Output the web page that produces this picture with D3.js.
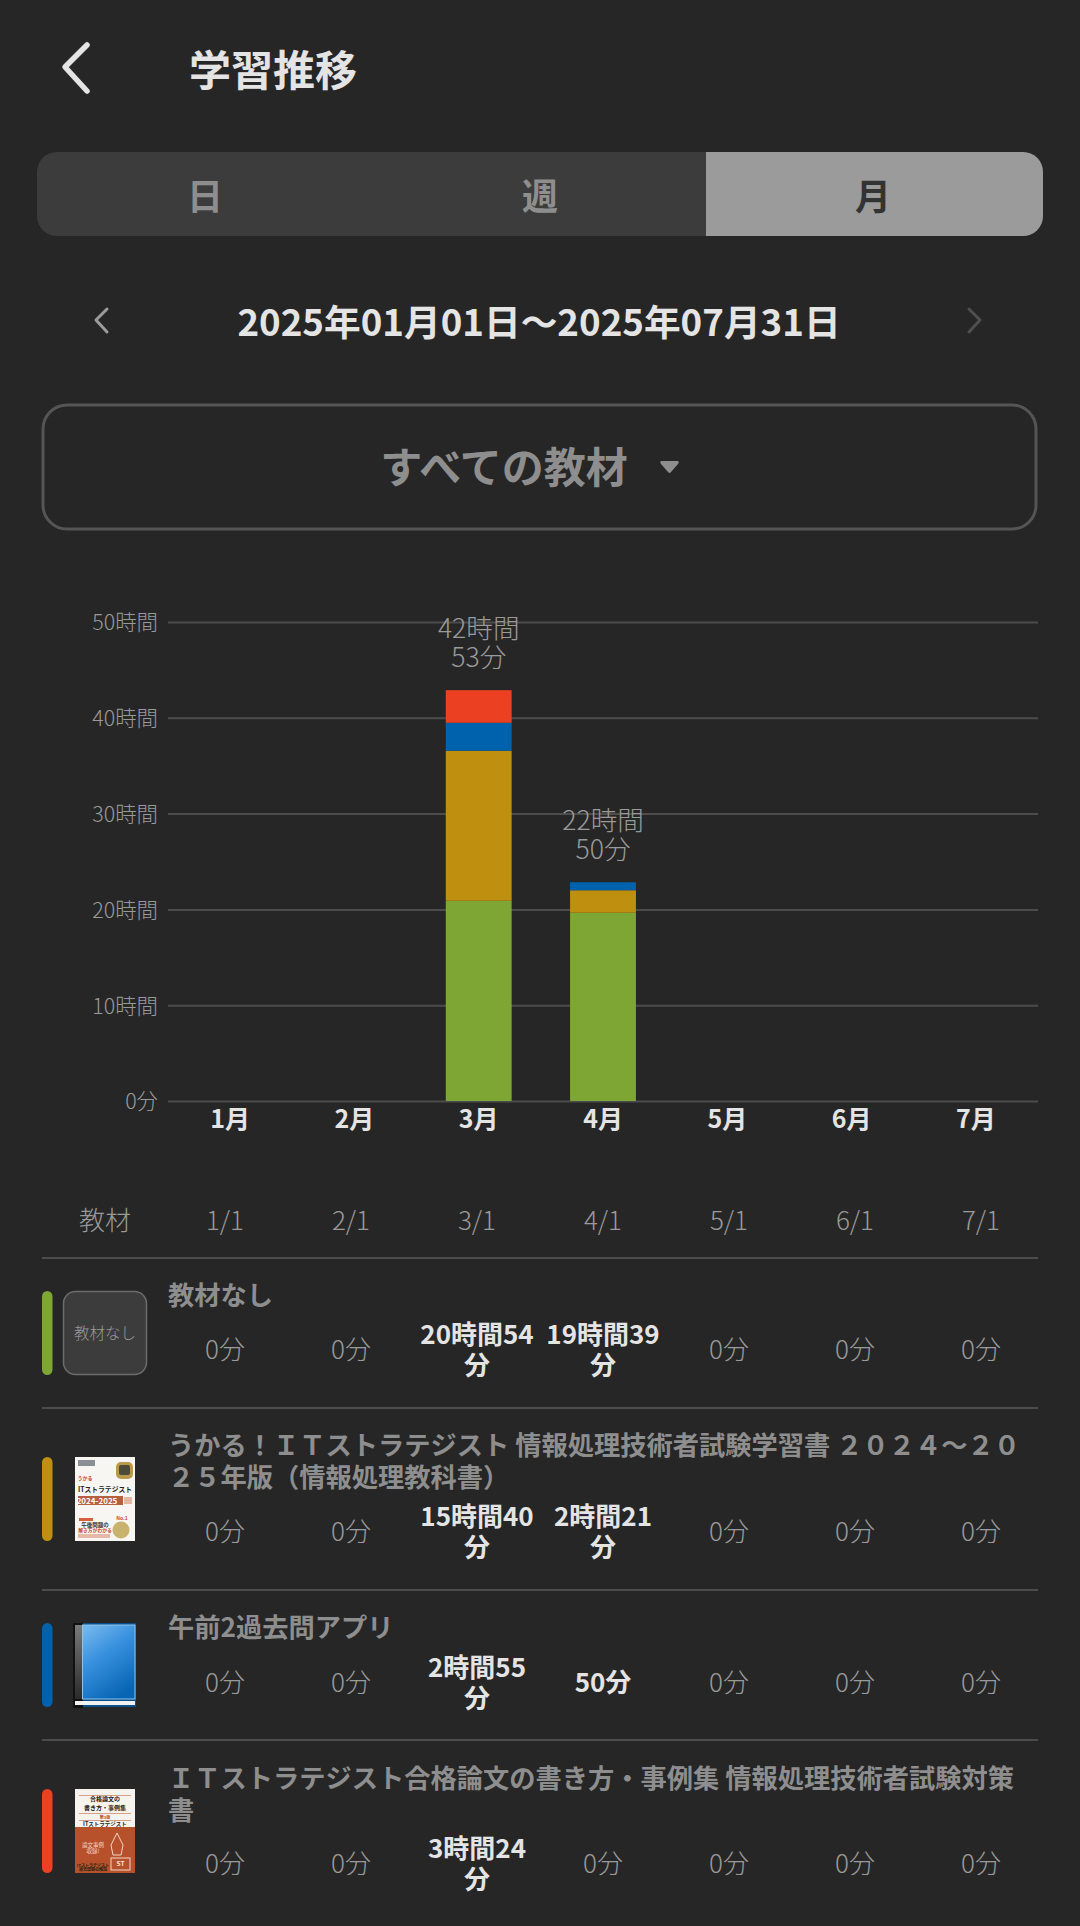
<!DOCTYPE html>
<html lang="ja">
<head>
<meta charset="utf-8">
<script src="https://cdn.jsdelivr.net/npm/d3@7"></script>
<style>
  html, body { margin: 0; background: #262626; }
  svg { display: block; }
  text { font-family: "Noto Sans CJK JP", sans-serif; }
</style>
</head>
<body>
<div id="wrapper"></div>
<script>
const months = ['1月', '2月', '3月', '4月', '5月', '6月', '7月']
const columnDates = ['1/1', '2/1', '3/1', '4/1', '5/1', '6/1', '7/1']
const yTicks = [0, 600, 1200, 1800, 2400, 3000]
const tabs = ['日', '週', '月']
const dateRange = '2025年01月01日～2025年07月31日'
const filterLabel = 'すべての教材'

// minutes studied per month, one array per material
const noMaterial = [0, 0, 1254, 1179, 0, 0, 0]
const ukaruBook = [0, 0, 940, 141, 0, 0, 0]
const quizApp = [0, 0, 175, 50, 0, 0, 0]
const essayBook = [0, 0, 204, 0, 0, 0, 0]

const seriesKeys = ['none', 'ukaru', 'app', 'essay']
const seriesValues = [noMaterial, ukaruBook, quizApp, essayBook]
const seriesColors = ['#7da634', '#bf8f10', '#0062ad', '#ec4023']
const seriesTitles = [
  ['教材なし'],
  ['うかる！ＩＴストラテジスト 情報処理技術者試験学習書 ２０２４～２０', '２５年版（情報処理教科書）'],
  ['午前2過去問アプリ'],
  ['ＩＴストラテジスト合格論文の書き方・事例集 情報処理技術者試験対策', '書'],
]

const dimensions = {
  width: 1080,
  height: 1926,
  chartLeft: 168,
  chartRight: 1038,
  chartTop: 622,
  chartBottom: 1101,
}

const colors = {
  bg: '#262626',
  panel: '#3c3c3c',
  active: '#9b9b9b',
  line: '#4c4c4c',
  muted: '#8e8e8e',
  thin: '#9a9a9a',
  light: '#e4e4e4',
}

const svg = d3
  .select('#wrapper')
  .append('svg')
  .attr('width', dimensions.width)
  .attr('height', dimensions.height)

function label(parent, x, y, str, size, fill, weight, anchor) {
  return parent
    .append('text')
    .attr('x', x)
    .attr('y', y)
    .attr('dy', '0.4em')
    .attr('font-size', size)
    .attr('font-weight', weight || 400)
    .attr('text-anchor', anchor || 'middle')
    .attr('fill', fill)
    .text(str)
}

// several lines in one text element, y is the centre of the first line
function multiline(parent, x, y, lines, lineHeight, size, fill, weight, anchor) {
  const t = label(parent, x, y, null, size, fill, weight, anchor).attr('dy', null)
  lines.forEach((line, i) => {
    t.append('tspan')
      .attr('x', x)
      .attr('dy', i === 0 ? '0.4em' : lineHeight)
      .text(line)
  })
  return t
}

function chevron(points, stroke, width) {
  svg
    .append('path')
    .attr('d', d3.line()(points))
    .attr('fill', 'none')
    .attr('stroke', stroke)
    .attr('stroke-width', width)
    .attr('stroke-linecap', 'round')
    .attr('stroke-linejoin', 'round')
}

// header
chevron([[87, 45], [65, 67], [87, 91]], colors.light, 5.500)
label(svg, 189, 69, '学習推移', 42, colors.light, 700, 'start')

// day / week / month switch
svg.append('rect').attr('x', 37).attr('y', 152).attr('width', 1006).attr('height', 84).attr('rx', 20).attr('fill', colors.panel)
svg
  .append('path')
  .attr('d', 'M706,152H1023a20,20 0 0 1 20,20V216a20,20 0 0 1 -20,20H706Z')
  .attr('fill', colors.active)
const tabX = [205, 540, 873]
tabs.forEach((t, i) => {
  label(svg, tabX[i], 196, t, 36, i === 2 ? '#333333' : colors.muted, 700)
})

// date range row
chevron([[107, 309], [96, 320], [107, 332]], colors.active, 3)
chevron([[969, 309], [980, 320], [969, 332]], '#4f4f4f', 3)
label(svg, 539, 321, dateRange, 36.700, colors.light, 700)

// material filter
svg
  .append('rect')
  .attr('x', 43)
  .attr('y', 405)
  .attr('width', 993)
  .attr('height', 124)
  .attr('rx', 24)
  .attr('fill', 'none')
  .attr('stroke', '#555555')
  .attr('stroke-width', 3)
label(svg, 504, 466, filterLabel, 42, colors.muted, 700)
svg
  .append('path')
  .attr('d', 'M662,461H677Q680,461 678,464L671,472Q669.500,474 668,472L661,464Q659,461 662,461Z')
  .attr('fill', colors.muted)

// chart scales
const xScale = d3
  .scaleBand()
  .domain(months)
  .range([dimensions.chartLeft, dimensions.chartRight])
  .paddingInner(0.47)
  .paddingOuter(0.235)

const yScale = d3
  .scaleLinear()
  .domain([0, 3000])
  .range([dimensions.chartBottom, dimensions.chartTop])

const formatTick = (m) => (m === 0 ? '0分' : `${m / 60}時間`)

// y axis doubles as the gridlines
const yAxis = svg
  .append('g')
  .attr('transform', `translate(${dimensions.chartLeft}, 0)`)
  .call(
    d3
      .axisLeft(yScale)
      .tickValues(yTicks)
      .tickSize(-(dimensions.chartRight - dimensions.chartLeft))
      .tickPadding(10)
      .tickFormat(formatTick)
  )
yAxis.select('.domain').remove()
yAxis.selectAll('line').attr('stroke', colors.line).attr('stroke-width', 2)
yAxis
  .selectAll('text')
  .attr('font-family', '"Noto Sans CJK JP", sans-serif')
  .attr('font-size', 21.400)
  .attr('font-weight', 300)
  .attr('dy', '0.37em')
  .attr('fill', colors.thin)

// stacked bars
const stackRows = months.map((month, i) => {
  const row = { month }
  seriesKeys.forEach((k, s) => (row[k] = seriesValues[s][i]))
  return row
})
const stacked = d3.stack().keys(seriesKeys)(stackRows)

svg
  .append('g')
  .selectAll('g')
  .data(stacked)
  .join('g')
  .attr('fill', (d, i) => seriesColors[i])
  .selectAll('rect')
  .data((d) => d)
  .join('rect')
  .attr('x', (d) => xScale(d.data.month))
  .attr('width', xScale.bandwidth())
  .attr('y', (d) => yScale(d[1]))
  .attr('height', (d) => yScale(d[0]) - yScale(d[1]))

// month labels under the bars
const xAxis = svg
  .append('g')
  .attr('transform', `translate(0, ${dimensions.chartBottom})`)
  .call(d3.axisBottom(xScale).tickSize(0).tickPadding(9))
xAxis.select('.domain').remove()
xAxis
  .selectAll('text')
  .attr('font-family', '"Noto Sans CJK JP", sans-serif')
  .attr('font-size', 25)
  .attr('font-weight', 700)
  .attr('fill', colors.light)

// totals above bars
months.forEach((month, i) => {
  const total = d3.sum(seriesValues, (s) => s[i])
  if (total === 0) return
  const cx = xScale(month) + xScale.bandwidth() / 2
  const lines = [`${Math.floor(total / 60)}時間`, `${total % 60}分`]
  multiline(svg, cx, yScale(total) - 63, lines, 29, 26.600, colors.thin, 300)
})

// table
const columnScale = d3.scaleBand().domain(columnDates).range([162, 1044])
const columnCenter = (d) => columnScale(d) + columnScale.bandwidth() / 2

label(svg, 105, 1220, '教材', 26, colors.thin, 300)
columnDates.forEach((d) => label(svg, columnCenter(d), 1220, d, 26, colors.thin, 300))

function separator(y) {
  svg
    .append('line')
    .attr('x1', 42)
    .attr('x2', 1038)
    .attr('y1', y)
    .attr('y2', y)
    .attr('stroke', colors.line)
    .attr('stroke-width', 2)
}

const rowLayout = [
  { top: 1258, swatch: 1291, titleY: 1294, cellY: 1349 },
  { top: 1408, swatch: 1457, titleY: 1444, cellY: 1531 },
  { top: 1590, swatch: 1623, titleY: 1626, cellY: 1682 },
  { top: 1740, swatch: 1789, titleY: 1777, cellY: 1863 },
]

rowLayout.forEach((row, s) => {
  separator(row.top)
  svg
    .append('rect')
    .attr('x', 42)
    .attr('y', row.swatch)
    .attr('width', 10.500)
    .attr('height', 84)
    .attr('rx', 5.250)
    .attr('fill', seriesColors[s])

  multiline(svg, 168, row.titleY, seriesTitles[s], 32, 26.250, colors.muted, 700, 'start')

  seriesValues[s].forEach((minutes, i) => {
    const cx = columnCenter(columnDates[i])
    if (minutes === 0) {
      label(svg, cx, row.cellY, '0分', 26, colors.thin, 300)
      return
    }
    const h = Math.floor(minutes / 60)
    const m = minutes % 60
    if (h === 0) {
      label(svg, cx, row.cellY, `${m}分`, 26, colors.light, 700)
    } else {
      // the cell is narrow, so 分 wraps onto a second line
      multiline(svg, cx, row.cellY - 15.500, [`${h}時間${m}`, '分'], 31, 26, colors.light, 700)
    }
  })
})

// thumbnails
function noMaterialThumb(y) {
  svg.append('rect').attr('x', 63.500).attr('y', y + 0.500).attr('width', 83).attr('height', 83).attr('rx', 12)
    .attr('fill', colors.panel).attr('stroke', '#6c6c6c').attr('stroke-width', 1.500)
  label(svg, 105, y + 42, '教材なし', 15.500, colors.active, 300)
}

function ukaruThumb(y) {
  const g = svg.append('g').attr('transform', `translate(75, ${y})`)
  g.append('rect').attr('width', 60).attr('height', 84).attr('fill', '#f7f6f2')
  g.append('rect').attr('x', 3).attr('y', 3).attr('width', 17).attr('height', 6).attr('fill', '#8a8f96')
  g.append('rect').attr('x', 41).attr('y', 5).attr('width', 17).attr('height', 17).attr('rx', 5).attr('fill', '#b89a4a')
  g.append('rect').attr('x', 44).attr('y', 8).attr('width', 11).attr('height', 10).attr('rx', 2).attr('fill', '#4d4a3a')
  label(g, 10, 21, 'うかる', 5, '#d23b2a', 700)
  label(g, 30, 32, 'ITストラテジスト', 6.800, '#222222', 700)
  g.append('rect').attr('x', 3).attr('y', 39).attr('width', 45).attr('height', 9).attr('fill', '#b5603f')
  label(g, 22, 43.500, '2024-2025', 8, '#ffffff', 700)
  g.append('rect').attr('x', 49).attr('y', 40).attr('width', 8).attr('height', 7).attr('fill', '#e3b9a5')
  g.append('rect').attr('x', 4).attr('y', 61).attr('width', 14).attr('height', 3).attr('fill', '#d8603f')
  label(g, 20, 68, '午後問題の', 5.500, '#333333', 700)
  label(g, 20, 73.500, '解き方がわかる', 4.800, '#c7402c', 700)
  g.append('circle').attr('cx', 46).attr('cy', 73).attr('r', 8.500).attr('fill', '#c9b26d')
  label(g, 47, 61, 'No.1', 5, '#d13c2b', 700)
  g.append('rect').attr('x', 3).attr('y', 77).attr('width', 32).attr('height', 4).attr('fill', '#e6b8a8')
}

const defs = svg.append('defs')
const blueGrad = defs.append('linearGradient').attr('id', 'appBlue').attr('x1', 0.150).attr('y1', 0).attr('x2', 0.650).attr('y2', 1)
blueGrad.append('stop').attr('offset', 0).attr('stop-color', '#73b6ec')
blueGrad.append('stop').attr('offset', 0.400).attr('stop-color', '#3a92df')
blueGrad.append('stop').attr('offset', 1).attr('stop-color', '#0765b4')
const spineGrad = defs.append('linearGradient').attr('id', 'appSpine').attr('x1', 0).attr('y1', 0).attr('x2', 0).attr('y2', 1)
spineGrad.append('stop').attr('offset', 0).attr('stop-color', '#7a7a7a')
spineGrad.append('stop').attr('offset', 1).attr('stop-color', '#2a2a2a')

function appThumb(y) {
  const g = svg.append('g').attr('transform', `translate(73, ${y})`)
  g.append('rect').attr('x', 9).attr('width', 54).attr('height', 84).attr('fill', '#0b4f8a')
  g.append('rect').attr('width', 10).attr('height', 85).attr('fill', '#111111')
  g.append('rect').attr('x', 2).attr('y', 2).attr('width', 7.500).attr('height', 74).attr('fill', 'url(#appSpine)')
  g.append('rect').attr('x', 9.500).attr('y', 2).attr('width', 52.500).attr('height', 74).attr('fill', 'url(#appBlue)').attr('stroke', '#8fc3ea').attr('stroke-width', 1)
  g.append('rect').attr('x', 2).attr('y', 78).attr('width', 60).attr('height', 4).attr('fill', '#f1f1f1')
}

function essayThumb(y) {
  const g = svg.append('g').attr('transform', `translate(75, ${y})`)
  g.append('rect').attr('width', 60).attr('height', 84).attr('fill', '#f6f3ee')
  g.append('rect').attr('y', 38).attr('width', 60).attr('height', 46).attr('fill', '#b6512c')
  ;[6, 24, 31].forEach((ly) => {
    g.append('rect').attr('x', 4).attr('y', ly).attr('width', 52).attr('height', 0.800).attr('fill', '#d08a6c')
  })
  label(g, 30, 10, '合格論文の', 6, '#222222', 700)
  label(g, 30, 19, '書き方・事例集', 6, '#222222', 700)
  label(g, 30, 28, '第3版', 4, '#b6512c', 700)
  label(g, 30, 34.500, 'ITストラテジスト', 5.500, '#222222', 700)
  g.append('path').attr('d', 'M42,44L48,56L46,66H38L36,56Z').attr('fill', 'none').attr('stroke', '#f3d6c4').attr('stroke-width', 1)
  g.append('rect').attr('x', 36).attr('y', 69).attr('width', 19).attr('height', 12).attr('fill', 'none').attr('stroke', '#f3d6c4').attr('stroke-width', 1)
  label(g, 45.500, 74.500, 'ST', 6.500, '#f7e4d6', 700)
  label(g, 18, 56, '論文事例', 5.500, '#f3d6c4', 400)
  label(g, 18, 62, '収録!', 5.500, '#f3d6c4', 400)
  label(g, 18, 76, 'ITストラテジスト', 4, '#2a1a12', 700)
  label(g, 18, 80.500, '過去問題の解説', 4, '#2a1a12', 700)
}

noMaterialThumb(rowLayout[0].swatch)
ukaruThumb(rowLayout[1].swatch)
appThumb(rowLayout[2].swatch)
essayThumb(rowLayout[3].swatch)
</script>
</body>
</html>
